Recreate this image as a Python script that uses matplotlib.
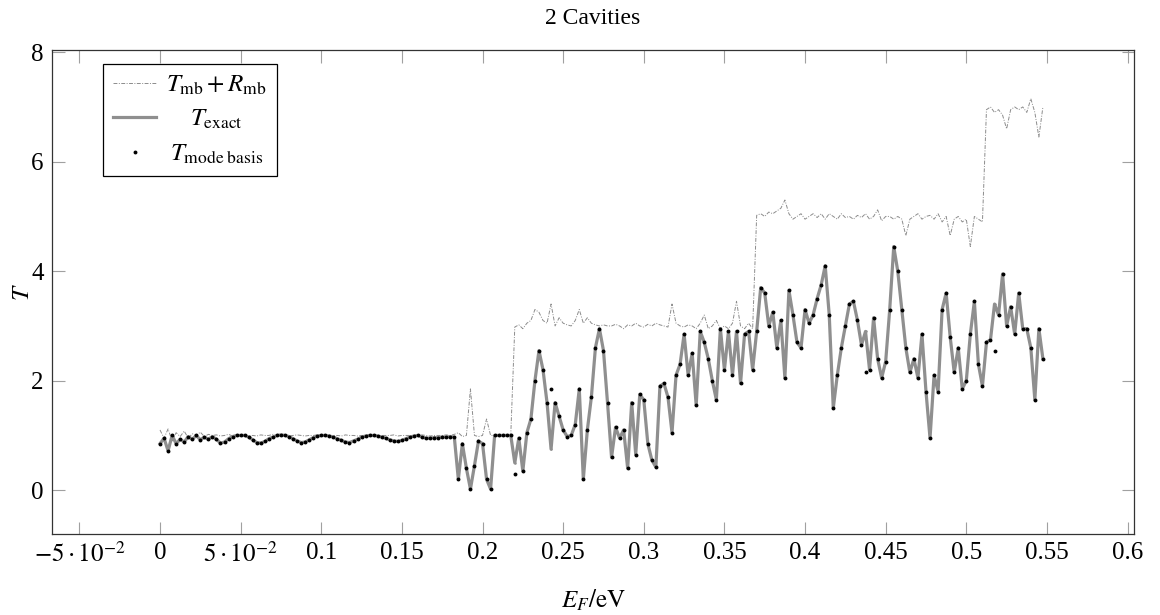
import matplotlib
matplotlib.use("Agg")
import matplotlib.pyplot as plt
import numpy as np

plt.rcParams['font.family'] = 'serif'
plt.rcParams['font.serif'] = ['Liberation Serif', 'DejaVu Serif']
plt.rcParams['mathtext.fontset'] = 'stix'

# energy grid step (eV)
step = 0.0025

T_exact = [
    0.85, 0.95, 0.72, 1.0, 0.85, 0.93, 0.88, 0.98, 0.93, 1.0, 0.92, 0.97, 0.93,
    0.98, 0.93, 0.86, 0.88, 0.94, 0.98, 1.0,
    1.0, 1.0, 0.97, 0.92, 0.87, 0.86, 0.89,
    0.94, 0.97, 1.0, 1.01, 1.0, 0.98, 0.94, 0.9, 0.87,
    0.88, 0.92, 0.96, 0.99, 1.0, 1.0, 0.99, 0.97, 0.94, 0.91, 0.88, 0.87,
    0.9, 0.93, 0.97, 0.99, 1.0, 1.0, 0.99, 0.97, 0.95, 0.92, 0.9, 0.89,
    0.91, 0.94, 0.97, 0.99, 1.0, 0.97, 0.95, 0.95, 0.96, 0.96, 0.97, 0.97, 0.98,
    0.97, 0.2, 0.85, 0.4, 0.02, 0.45, 0.9, 0.85, 0.2, 0.02, 1.0, 1.0, 1.0, 1.0, 1.0,
    0.5, 0.95, 0.35, 1.05, 1.3, 2.0, 2.55, 2.2, 1.6, 0.75, 1.6, 1.35, 1.1, 0.98,
    1.0, 1.2, 1.85, 0.2, 1.1, 1.7, 2.6, 2.95, 2.55, 1.6,
    0.6, 1.15, 0.95, 1.1, 0.4, 1.6, 0.65, 1.75, 1.65, 0.85, 0.55, 0.42, 1.9, 1.95,
    1.7, 1.05, 2.1, 2.3, 2.85, 2.1, 2.5, 1.55, 2.9, 2.7, 2.4, 2.0, 1.65, 2.95, 2.2,
    2.9, 2.1, 2.9, 1.95, 2.85, 2.9, 2.2,
    2.9, 3.7, 3.6, 3.0, 3.25, 2.6, 3.1, 2.05, 3.65, 3.2, 2.7, 2.6, 3.3, 3.05, 3.2,
    3.5, 3.75, 4.1, 3.2, 1.5, 2.1, 2.6, 3.0, 3.4, 3.45, 3.1, 2.65, 2.9, 2.2, 3.15,
    2.4, 2.05, 2.35, 3.3, 4.45, 4.0, 3.3, 2.6, 2.15, 2.4, 2.05, 2.85, 1.8, 0.95,
    2.1, 1.8, 3.3, 3.6, 2.8, 2.15, 2.6, 1.85, 2.0, 2.85, 3.45, 2.3, 1.9, 2.7, 2.75,
    3.4, 3.2, 3.95, 3.0, 3.35, 2.85, 3.6, 2.95, 2.95, 2.6, 1.65, 2.95, 2.4,
]

T_mb_R_mb = [
    1.1, 0.95, 1.12, 0.9, 1.05, 0.98, 1.08, 0.95, 1.03, 1.0, 1.06, 0.98, 1.02,
    1.0, 1.01, 0.99, 1.0, 1.02, 0.99, 1.0, 1.0, 1.01, 0.99,
    1.0, 0.99, 1.01, 1.0, 1.0, 1.02, 0.99, 1.0, 1.0, 0.99,
    1.0, 1.01, 1.0, 0.99, 1.0, 1.0, 1.01, 1.0, 0.99, 1.0,
    1.0, 1.0, 0.99, 1.01, 1.0, 1.0, 0.99, 1.0, 1.0, 1.01,
    1.0, 0.99, 1.0, 1.0, 1.0, 1.01, 0.99, 1.0, 1.0, 1.0,
    0.99, 1.0, 1.01, 1.0, 0.99, 1.0, 1.0, 1.0, 1.01, 1.0,
    1.02, 1.05, 0.98, 1.0, 1.85, 1.0, 0.98, 1.0, 1.3, 1.0, 1.0, 1.0, 1.0, 1.0, 1.0,
    2.98, 3.02, 2.95, 3.05, 3.1, 3.3, 3.25, 3.1, 3.05, 3.4, 3.0, 3.15, 3.05, 3.02,
    3.0, 3.1, 3.3, 3.05, 3.15, 3.05, 3.02, 3.0, 3.02, 3.0, 3.0, 3.03, 3.0, 2.95,
    3.02, 3.0, 3.05, 3.0, 2.98, 3.03, 3.0, 3.05, 3.02, 3.0, 2.98, 3.4, 3.05, 3.0,
    2.98, 3.02, 3.0, 2.95, 3.05, 3.2, 2.95, 3.0, 3.1, 2.95, 3.0, 2.95, 3.05, 3.45,
    3.0, 2.95, 3.05, 2.95,
    5.02, 5.05, 5.0, 5.08, 5.05, 5.1, 5.15, 5.3, 5.05, 4.95, 5.0, 5.05, 4.95, 5.0,
    5.05, 4.98, 5.05, 4.95, 5.05, 5.0, 4.95, 5.05, 4.98, 5.0, 4.95, 5.02, 4.98,
    5.05, 4.95, 5.0, 5.12, 4.92, 5.0, 5.0, 4.95, 5.0, 4.95, 4.65, 4.95, 5.0, 5.05,
    4.95, 5.0, 5.02, 4.95, 5.05, 4.9, 5.0, 4.65, 4.95, 5.0, 4.9, 4.95, 4.45, 5.0,
    4.95, 4.9,
    6.95, 7.0, 6.9, 6.95, 6.85, 6.6, 6.95, 7.0, 6.95, 7.0, 6.9, 7.15, 6.9, 6.45, 7.0,
]

# points where the mode basis result sits off the exact curve (index: value)
mode_outliers = {88: 0.3, 97: 1.85, 175: 2.15, 207: 2.55}

xticks = [-0.05, 0, 0.05, 0.1, 0.15, 0.2, 0.25, 0.3, 0.35, 0.4, 0.45, 0.5, 0.55, 0.6]
xticklabels = [r'$-5\cdot10^{-2}$', '0', r'$5\cdot10^{-2}$', '0.1', '0.15', '0.2',
               '0.25', '0.3', '0.35', '0.4', '0.45', '0.5', '0.55', '0.6']
yticks = [0, 2, 4, 6, 8]

E = np.arange(len(T_exact)) * step
T_mode = list(T_exact)
for k, v in mode_outliers.items():
    T_mode[k] = v

fig = plt.figure(figsize=(11.6, 6.15), dpi=100)
ax = fig.add_axes([0.0448, 0.1317, 0.9328, 0.787])

ax.plot(E, T_mb_R_mb, color='#8c8c8c', lw=0.7,
        linestyle=(0, (4, 1.5, 1, 1.5)), label=r'$T_{\mathrm{mb}} + R_{\mathrm{mb}}$')
ax.plot(E, T_exact, color='#8f8f8f', lw=2.3, marker='o', markersize=1.8,
        markeredgewidth=0, label=r'$T_{\mathrm{exact}}$')
ax.plot(E, T_mode, linestyle='none', color='black', marker='o', markersize=2.8,
        markeredgewidth=0, label=r'$T_{\mathrm{mode\ basis}}$')

ax.set_xlim(-0.067, 0.604)
ax.set_ylim(-0.8, 8.04)
ax.set_xticks(xticks)
ax.set_xticklabels(xticklabels)
ax.set_yticks(yticks)
ax.tick_params(direction='in', length=9, width=0.8, color='#a0a0a0',
               top=True, right=True, labelsize=18, pad=6)
for s in ax.spines.values():
    s.set_linewidth(0.9)
    s.set_color('#333333')

ax.set_title('2 Cavities', fontsize=17, pad=19)
ax.set_xlabel(r'$E_F/\mathrm{eV}$', fontsize=18, labelpad=15)
ax.set_ylabel(r'$T$', fontsize=18, labelpad=-2)

leg = ax.legend(loc='upper left', bbox_to_anchor=(0.0475, 0.972), fontsize=18,
                frameon=True, fancybox=False, edgecolor='black', framealpha=1,
                handlelength=1.7, borderpad=0.4, labelspacing=0.45, handletextpad=0.4,
                borderaxespad=0)
leg.get_frame().set_linewidth(0.9)

# centre the legend entries in their column, as in the original
fig.canvas.draw()
renderer = fig.canvas.get_renderer()
widths = [t.get_window_extent(renderer).width for t in leg.get_texts()]
wmax = max(widths)
for t, w in zip(leg.get_texts(), widths):
    t.set_position(((wmax - w) / 2, 0))

fig.savefig('out.png', dpi=100)
